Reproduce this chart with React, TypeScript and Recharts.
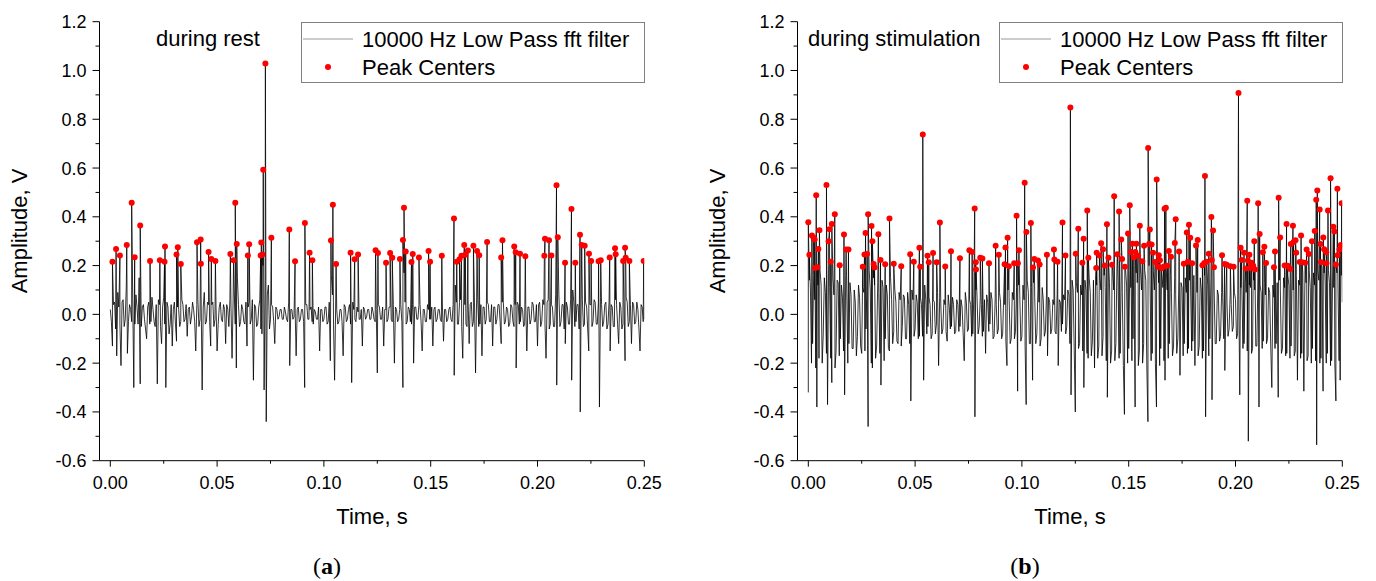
import { ComposedChart, Legend, Line, Scatter, XAxis, YAxis } from 'recharts';

const FONT = "'Liberation Sans', Arial, sans-serif";
const SAMPLE_STEP = 0.001; // s between baseline samples

const X_MAJOR = [0, 0.05, 0.1, 0.15, 0.2, 0.25];
const X_MINOR = [0.025, 0.075, 0.125, 0.175, 0.225];
const Y_MAJOR = [-0.6, -0.4, -0.2, 0, 0.2, 0.4, 0.6, 0.8, 1.0, 1.2];
const Y_MINOR = [-0.5, -0.3, -0.1, 0.1, 0.3, 0.5, 0.7, 0.9, 1.1];

// baseline trace during rest, one value per ms (0.000 … 0.250 s)
const restNoise = [
  0.02, -0.13, 0.05, -0.17, 0.03, -0.21, 0.06, -0.02, -0.16, 0.04,
  -0.03, -0.3, 0.08, -0.04, -0.285, 0.03, -0.02, -0.1, 0.05, -0.03,
  0.02, -0.05, -0.285, 0.04, -0.12, 0.07, -0.3, 0.03, -0.04, -0.13,
  0.05, -0.11, 0.02, -0.03, 0.04, -0.02, -0.09, 0.03, -0.01, 0.02,
  -0.15, 0.06, -0.02, -0.31, 0.09, -0.03, 0.04, -0.13, 0.05, -0.02,
  -0.15, 0.03, -0.02, 0.04, -0.12, 0.02, 0.06, -0.18, 0.1, -0.22,
  0.04, -0.03, 0.02, -0.04, -0.13, 0.05, -0.02, -0.27, 0.03, -0.04,
  0.06, -0.08, -0.31, -0.44, 0.12, -0.02, 0.03, -0.12, 0.02, -0.01,
  0.02, -0.02, 0.01, -0.03, -0.21, 0.02, -0.01, -0.17, 0.03, -0.02,
  0.02, -0.3, 0.04, -0.02, 0.03, -0.04, 0.01, -0.02, -0.15, 0.02,
  -0.02, 0.03, -0.03, -0.19, 0.08, -0.27, 0.02, -0.03, 0.02, -0.17,
  0.03, -0.02, 0.04, -0.28, 0.02, -0.03, 0.01, -0.02, -0.13, 0.02,
  -0.01, 0.02, -0.02, 0.01, -0.03, -0.24, 0.03, -0.02, -0.13, 0.02,
  -0.02, 0.03, -0.03, -0.2, 0.02, -0.02, 0.04, -0.3, 0.05, -0.03,
  0.02, -0.04, -0.2, 0.03, -0.02, 0.04, -0.15, 0.02, -0.03, 0.02,
  -0.02, -0.13, 0.03, -0.02, 0.02, -0.03, -0.11, 0.02, -0.02, 0.03,
  -0.03, -0.25, 0.05, -0.04, 0.06, -0.18, 0.04, -0.05, -0.12, 0.05,
  -0.03, -0.24, 0.06, -0.04, -0.17, 0.03, -0.02, 0.04, -0.03, -0.13,
  0.03, -0.02, 0.04, -0.12, 0.05, -0.03, 0.02, -0.04, 0.03, -0.05,
  -0.22, 0.04, -0.03, 0.02, -0.04, -0.15, 0.03, -0.02, 0.04, -0.03,
  -0.13, 0.05, -0.03, 0.04, -0.18, 0.06, -0.04, 0.03, -0.05, -0.29,
  0.08, -0.03, 0.04, -0.12, 0.03, -0.04, -0.27, 0.05, -0.03, 0.04,
  -0.4, 0.06, -0.04, 0.03, -0.15, 0.04, -0.03, 0.05, -0.04, -0.38,
  0.04, -0.03, 0.05, -0.04, -0.15, 0.03, -0.05, 0.04, -0.12, 0.03,
  -0.04, -0.19, 0.05, -0.03, -0.12, 0.04, -0.03, 0.02, -0.15, 0.03,
  -0.02,
];

// rest trace at the half-ms points (0.0005 … 0.2495 s)
const restNoiseMid = [
  -0.03, 0.04, -0.06, 0.09, -0.04, 0.05, -0.05, 0.12, -0.03, 0.02,
  0.06, -0.04, 0.03, 0.15, -0.05, 0.04, -0.06, 0.03, -0.04, 0.07,
  -0.03, 0.04, 0.06, -0.05, 0.03, -0.04, 0.05, -0.08, 0.04, 0.02,
  -0.04, 0.03, -0.05, 0.06, -0.03, 0.04, 0.02, -0.04, 0.05, -0.03,
  0.04, -0.05, 0.08, 0.03, -0.04, 0.05, -0.03, 0.04, -0.05, 0.03,
  -0.04, 0.05, -0.03, 0.02, 0.04, -0.05, 0.03, 0.06, -0.04, 0.15,
  -0.05, 0.04, -0.03, 0.05, 0.03, -0.04, 0.06, 0.04, -0.05, 0.03,
  -0.06, 0.2, 0.14, 0.08, -0.06, 0.04, -0.03, 0.03, -0.02, 0.02,
  -0.02, 0.03, -0.02, 0.05, 0.02, -0.02, 0.03, 0.02, -0.03, 0.02,
  -0.03, 0.04, -0.02, 0.02, -0.03, 0.02, -0.02, 0.03, 0.02, -0.03,
  0.03, -0.04, 0.05, 0.16, -0.04, 0.03, -0.04, 0.02, -0.03, 0.04,
  -0.03, 0.02, -0.04, 0.05, -0.02, 0.03, -0.02, 0.02, 0.03, -0.02,
  0.02, -0.02, 0.03, -0.02, 0.02, 0.04, -0.02, 0.03, 0.02, -0.03,
  0.03, -0.02, 0.04, 0.03, -0.03, 0.02, -0.03, 0.17, -0.04, 0.03,
  -0.03, 0.04, 0.03, -0.02, 0.04, -0.03, 0.02, -0.03, 0.04, -0.02,
  0.03, 0.02, -0.03, 0.02, -0.02, 0.03, 0.02, -0.03, 0.02, -0.02,
  0.04, 0.12, -0.04, 0.05, -0.05, 0.08, -0.04, 0.06, 0.04, -0.05,
  0.05, 0.07, -0.05, 0.04, 0.03, -0.04, 0.05, -0.03, 0.04, 0.03,
  -0.04, 0.04, -0.03, 0.05, -0.04, 0.03, -0.05, 0.04, -0.03, 0.04,
  0.05, -0.04, 0.03, -0.05, 0.04, 0.03, -0.04, 0.05, -0.03, 0.04,
  0.04, -0.05, 0.06, -0.04, 0.05, -0.06, 0.04, -0.05, 0.08, 0.2,
  -0.05, 0.04, -0.06, 0.05, -0.04, 0.06, 0.1, -0.05, 0.04, -0.06,
  0.12, -0.05, 0.05, -0.06, 0.04, -0.05, 0.06, -0.04, 0.05, 0.07,
  -0.05, 0.04, -0.06, 0.05, 0.04, -0.05, 0.06, -0.04, 0.05, -0.06,
  0.05, 0.07, -0.05, 0.04, 0.05, -0.04, 0.05, -0.06, 0.04, -0.03,
];

// peak centres during rest: [time s, amplitude V]
const restPeaks: [number, number][] = [
  [0.001, 0.216], [0.0027, 0.268], [0.0045, 0.241], [0.0077, 0.284], [0.01, 0.458],
  [0.0114, 0.234], [0.014, 0.364], [0.0186, 0.219], [0.0232, 0.222], [0.0254, 0.216],
  [0.0256, 0.278], [0.031, 0.245], [0.0316, 0.275], [0.033, 0.207], [0.0406, 0.296],
  [0.0423, 0.307], [0.0424, 0.208], [0.046, 0.256], [0.0473, 0.227], [0.0492, 0.219],
  [0.0562, 0.248], [0.0577, 0.222], [0.0585, 0.458], [0.0592, 0.289], [0.0644, 0.241],
  [0.065, 0.288], [0.0704, 0.241], [0.0707, 0.295], [0.0712, 0.245], [0.0716, 0.593],
  [0.0726, 1.029], [0.0754, 0.314], [0.0838, 0.348], [0.0865, 0.218], [0.0911, 0.375],
  [0.0933, 0.253], [0.0946, 0.222], [0.1033, 0.303], [0.1042, 0.449], [0.1057, 0.207],
  [0.1125, 0.253], [0.1144, 0.226], [0.116, 0.245], [0.1242, 0.263], [0.1253, 0.252],
  [0.1291, 0.212], [0.131, 0.252], [0.132, 0.232], [0.1356, 0.227], [0.137, 0.305],
  [0.1375, 0.437], [0.1383, 0.258], [0.141, 0.215], [0.1416, 0.248], [0.1445, 0.233],
  [0.149, 0.26], [0.1497, 0.216], [0.1552, 0.24], [0.1609, 0.393], [0.1622, 0.216],
  [0.1635, 0.226], [0.1644, 0.24], [0.1657, 0.284], [0.1662, 0.244], [0.1674, 0.262],
  [0.17, 0.281], [0.1717, 0.26], [0.1727, 0.242], [0.1764, 0.297], [0.183, 0.233],
  [0.1836, 0.304], [0.1891, 0.278], [0.1898, 0.255], [0.1918, 0.249], [0.1943, 0.238],
  [0.2032, 0.24], [0.2035, 0.31], [0.2054, 0.304], [0.2065, 0.241], [0.2089, 0.529],
  [0.2095, 0.316], [0.2129, 0.212], [0.2159, 0.432], [0.2177, 0.212], [0.2199, 0.326],
  [0.2207, 0.284], [0.2221, 0.281], [0.2241, 0.249], [0.2251, 0.219], [0.2286, 0.218],
  [0.2296, 0.222], [0.2338, 0.233], [0.2363, 0.271], [0.2366, 0.247], [0.2401, 0.219],
  [0.241, 0.273], [0.2413, 0.232], [0.243, 0.219], [0.2497, 0.219],
];

// baseline trace during stimulation, one value per ms
const stimNoise = [
  -0.32, 0.1, -0.12, 0.06, -0.38, -0.18, 0.12, -0.08, 0.09, -0.37,
  0.11, -0.28, 0.08, -0.15, 0.13, -0.1, 0.07, -0.33, 0.1, -0.12,
  0.08, -0.14, 0.05, -0.09, 0.07, -0.16, 0.09, -0.06, -0.46, 0.1,
  -0.22, 0.12, -0.13, 0.09, -0.29, 0.11, -0.1, 0.08, -0.15, 0.06,
  -0.07, 0.05, -0.12, 0.06, -0.05, 0.07, -0.1, 0.04, -0.355, 0.06,
  -0.06, 0.05, -0.09, 0.04, -0.27, 0.06, -0.05, 0.04, -0.08, 0.05,
  -0.04, -0.21, 0.05, -0.06, 0.04, -0.11, 0.03, -0.05, 0.04, -0.07,
  0.04, -0.05, 0.03, -0.19, 0.05, -0.06, 0.04, -0.08, -0.42, 0.07,
  -0.05, 0.04, -0.07, -0.16, 0.05, -0.04, 0.06, -0.09, 0.04, -0.06,
  0.05, -0.08, 0.04, -0.21, 0.07, -0.1, 0.06, -0.07, -0.315, 0.08,
  -0.09, 0.06, -0.37, 0.09, -0.12, -0.27, 0.07, -0.08, 0.05, -0.1,
  0.06, -0.07, -0.17, 0.05, -0.06, 0.04, -0.08, -0.21, 0.05, -0.04,
  0.06, -0.05, 0.08, -0.33, 0.1, -0.4, 0.09, -0.12, 0.08, -0.3,
  0.1, -0.18, 0.09, -0.11, -0.22, 0.12, -0.13, 0.1, -0.09, 0.11,
  -0.34, 0.13, -0.15, 0.1, -0.12, 0.14, -0.16, 0.09, -0.41, 0.12,
  -0.14, 0.11, -0.1, -0.38, 0.13, -0.15, 0.1, -0.12, 0.14, -0.44,
  0.12, -0.16, 0.1, -0.38, 0.13, -0.14, 0.11, -0.27, 0.1, -0.12,
  0.09, -0.13, 0.08, -0.1, -0.25, 0.11, -0.12, 0.09, -0.14, 0.1,
  -0.11, -0.21, 0.09, -0.13, 0.1, -0.15, -0.42, 0.12, -0.1, -0.35,
  0.1, -0.12, 0.08, -0.09, 0.07, -0.23, 0.05, -0.06, 0.04, -0.05,
  0.06, -0.08, -0.33, 0.1, -0.12, 0.09, -0.52, 0.11, -0.14, 0.1,
  -0.13, -0.38, 0.09, -0.11, 0.08, -0.1, 0.09, -0.3, 0.07, -0.12,
  -0.34, 0.1, -0.14, 0.11, -0.16, 0.12, -0.13, 0.1, -0.15, -0.27,
  0.12, -0.16, -0.315, 0.13, -0.17, 0.11, -0.14, 0.12, -0.535, 0.14,
  -0.18, -0.315, 0.12, -0.16, 0.13, -0.19, 0.11, -0.355, 0.1, -0.27,
  0.05,
];

// stimulation trace at the half-ms points
const stimNoiseMid = [
  0.14, -0.2, 0.16, -0.22, 0.12, 0.18, -0.2, 0.15, -0.16, 0.2,
  -0.18, 0.15, -0.22, 0.14, -0.17, 0.12, -0.15, 0.16, -0.2, 0.13,
  -0.14, 0.1, -0.17, 0.12, -0.13, 0.11, -0.15, 0.14, 0.18, -0.2,
  0.15, -0.18, 0.13, -0.16, 0.14, -0.19, 0.12, -0.14, 0.15, -0.12,
  0.1, -0.11, 0.09, -0.13, 0.08, -0.1, 0.09, -0.12, 0.1, -0.09,
  0.08, -0.1, 0.07, -0.09, 0.12, -0.08, 0.07, -0.1, 0.06, -0.08,
  0.09, 0.07, -0.08, 0.06, -0.07, 0.08, -0.06, 0.07, -0.08, 0.06,
  -0.07, 0.06, -0.08, 0.09, -0.07, 0.06, -0.09, 0.08, 0.1, -0.08,
  0.07, -0.09, 0.06, 0.08, -0.07, 0.09, -0.1, 0.07, -0.08, 0.09,
  -0.1, 0.08, -0.11, 0.1, -0.12, 0.09, -0.1, 0.11, 0.12, -0.11,
  0.12, -0.13, 0.14, -0.12, 0.11, 0.13, -0.12, 0.1, -0.13, 0.11,
  -0.09, 0.08, 0.07, -0.08, 0.06, -0.07, 0.08, 0.06, -0.07, 0.08,
  -0.08, 0.1, -0.12, 0.14, -0.15, 0.13, -0.14, 0.12, -0.15, 0.14,
  -0.16, 0.15, -0.17, 0.14, 0.16, -0.18, 0.15, -0.17, 0.16, -0.19,
  0.17, -0.2, 0.18, -0.19, 0.2, -0.18, 0.17, -0.21, 0.19, -0.2,
  0.18, -0.19, 0.2, 0.17, -0.21, 0.19, -0.2, 0.18, -0.22, 0.2,
  -0.19, 0.18, -0.2, 0.19, -0.21, 0.17, -0.19, 0.2, -0.18, 0.16,
  -0.17, 0.15, -0.16, 0.14, 0.13, -0.17, 0.15, -0.16, 0.14, -0.15,
  0.16, 0.14, -0.17, 0.15, -0.18, 0.16, 0.14, -0.17, 0.15, 0.13,
  -0.12, 0.1, -0.11, 0.09, -0.1, 0.08, -0.09, 0.08, -0.07, 0.09,
  -0.1, 0.12, 0.11, -0.14, 0.13, -0.15, 0.12, -0.16, 0.14, -0.13,
  0.15, 0.12, -0.14, 0.13, -0.12, 0.11, -0.13, 0.12, -0.14, 0.13,
  0.14, -0.16, 0.15, -0.17, 0.16, -0.18, 0.15, -0.17, 0.16, 0.14,
  -0.18, 0.17, 0.16, -0.19, 0.18, -0.2, 0.17, -0.19, 0.18, -0.2,
  0.19, 0.17, -0.2, 0.18, -0.21, 0.19, -0.2, 0.17, -0.19, 0.16,
];

// peak centres during stimulation: [time s, amplitude V]
const stimPeaks: [number, number][] = [
  [0, 0.378], [0.0005, 0.244], [0.0017, 0.323], [0.0025, 0.314], [0.003, 0.307],
  [0.0031, 0.19], [0.0037, 0.488], [0.0042, 0.193], [0.0047, 0.268], [0.0052, 0.345],
  [0.0085, 0.53], [0.0095, 0.3], [0.0099, 0.349], [0.0105, 0.216], [0.011, 0.371],
  [0.0124, 0.411], [0.0147, 0.201], [0.0167, 0.327], [0.0177, 0.266], [0.0188, 0.266],
  [0.0255, 0.195], [0.0263, 0.245], [0.0268, 0.334], [0.0275, 0.248], [0.028, 0.411],
  [0.0296, 0.362], [0.03, 0.3], [0.0306, 0.207], [0.031, 0.192], [0.0328, 0.329],
  [0.0338, 0.223], [0.036, 0.205], [0.038, 0.393], [0.04, 0.208], [0.0435, 0.197],
  [0.0477, 0.247], [0.0494, 0.216], [0.052, 0.273], [0.0524, 0.195], [0.0536, 0.738],
  [0.0558, 0.24], [0.0564, 0.214], [0.0584, 0.252], [0.0601, 0.214], [0.0616, 0.377],
  [0.0641, 0.196], [0.0668, 0.259], [0.071, 0.23], [0.0754, 0.263], [0.0767, 0.256],
  [0.0779, 0.434], [0.0784, 0.214], [0.0785, 0.184], [0.0805, 0.232], [0.0815, 0.229],
  [0.0846, 0.21], [0.0877, 0.281], [0.0892, 0.244], [0.0919, 0.205], [0.0923, 0.274],
  [0.0933, 0.314], [0.0939, 0.197], [0.0964, 0.21], [0.0975, 0.404], [0.0981, 0.21],
  [0.0986, 0.263], [0.1013, 0.54], [0.1021, 0.338], [0.1042, 0.375], [0.1052, 0.192],
  [0.1058, 0.227], [0.1075, 0.221], [0.1083, 0.204], [0.1117, 0.244], [0.115, 0.266],
  [0.1152, 0.225], [0.1167, 0.216], [0.119, 0.377], [0.1204, 0.241], [0.1227, 0.848],
  [0.1252, 0.249], [0.1264, 0.351], [0.1283, 0.212], [0.1289, 0.31], [0.1306, 0.426],
  [0.1311, 0.232], [0.1348, 0.19], [0.135, 0.253], [0.1363, 0.241], [0.1371, 0.292],
  [0.138, 0.267], [0.1388, 0.2], [0.1398, 0.37], [0.1405, 0.232], [0.1422, 0.203],
  [0.1432, 0.484], [0.1447, 0.247], [0.1455, 0.422], [0.1465, 0.307], [0.1469, 0.227],
  [0.1482, 0.195], [0.1497, 0.332], [0.1505, 0.447], [0.151, 0.256], [0.1517, 0.29],
  [0.1524, 0.233], [0.1531, 0.256], [0.1536, 0.29], [0.1544, 0.24], [0.1552, 0.363],
  [0.1564, 0.218], [0.1572, 0.281], [0.1591, 0.682], [0.1596, 0.289], [0.1599, 0.348],
  [0.1607, 0.286], [0.1614, 0.253], [0.1624, 0.215], [0.1631, 0.553], [0.1638, 0.195],
  [0.1641, 0.242], [0.1646, 0.222], [0.1654, 0.189], [0.1664, 0.196], [0.1668, 0.433],
  [0.1674, 0.437], [0.1681, 0.199], [0.1688, 0.26], [0.1698, 0.236], [0.1716, 0.293],
  [0.172, 0.39], [0.1736, 0.258], [0.1758, 0.208], [0.1772, 0.336], [0.1777, 0.216],
  [0.1782, 0.367], [0.1788, 0.314], [0.1797, 0.21], [0.1815, 0.282], [0.1823, 0.305],
  [0.1845, 0.201], [0.1854, 0.211], [0.1857, 0.567], [0.1865, 0.216], [0.1875, 0.249],
  [0.1887, 0.399], [0.1889, 0.223], [0.1895, 0.344], [0.1899, 0.193], [0.1937, 0.242],
  [0.1949, 0.207], [0.1959, 0.203], [0.1976, 0.197], [0.1991, 0.195], [0.2014, 0.908],
  [0.2024, 0.273], [0.2029, 0.223], [0.204, 0.253], [0.2048, 0.188], [0.2055, 0.466],
  [0.2058, 0.221], [0.2065, 0.244], [0.2068, 0.19], [0.2075, 0.212], [0.2083, 0.199],
  [0.2088, 0.3], [0.2091, 0.184], [0.2106, 0.456], [0.2113, 0.33], [0.2128, 0.255],
  [0.2135, 0.277], [0.2143, 0.211], [0.218, 0.193], [0.2185, 0.258], [0.2202, 0.478],
  [0.2209, 0.315], [0.223, 0.2], [0.2239, 0.371], [0.2244, 0.199], [0.2256, 0.186],
  [0.2259, 0.289], [0.2269, 0.363], [0.2272, 0.297], [0.2281, 0.304], [0.2284, 0.253],
  [0.2301, 0.215], [0.2307, 0.323], [0.2312, 0.214], [0.2326, 0.212], [0.2333, 0.266],
  [0.2343, 0.248], [0.2358, 0.3], [0.2371, 0.342], [0.2378, 0.47], [0.2383, 0.508],
  [0.2394, 0.43], [0.2398, 0.289], [0.2401, 0.214], [0.2411, 0.315], [0.2415, 0.267],
  [0.2425, 0.255], [0.2426, 0.21], [0.2433, 0.426], [0.2445, 0.558], [0.2458, 0.359],
  [0.2463, 0.34], [0.247, 0.204], [0.2477, 0.515], [0.2478, 0.242], [0.2487, 0.266],
  [0.2493, 0.284], [0.2497, 0.456],
];

const SERIES_NAME = '10000 Hz Low Pass fft filter';
const PEAK_NAME = 'Peak Centers';

const isIn = (list: number[], v: number) => list.some((m) => Math.abs(m - v) < 1e-9);

// peaks sit on the trace, so the trace passes through them
const buildSignal = (noise: number[], mid: number[], peaks: [number, number][]) =>
  [
    ...noise.map((v, i) => ({ t: i * SAMPLE_STEP, v })),
    ...mid.map((v, i) => ({ t: (i + 0.5) * SAMPLE_STEP, v })),
    ...peaks.map(([t, v]) => ({ t, v })),
  ].sort((a, b) => a.t - b.t);

const XTick = (props: any) => {
  const { x, y, payload } = props;
  const major = isIn(X_MAJOR, payload.value);
  return (
    <g>
      <line x1={x} y1={y} x2={x} y2={y + (major ? 6 : 3)} stroke="#000" strokeWidth={1} />
      {major && (
        <text x={x} y={y + 28} textAnchor="middle" fontSize={18} fontFamily={FONT} fill="#000">
          {payload.value.toFixed(2)}
        </text>
      )}
    </g>
  );
};

const YTick = (props: any) => {
  const { x, y, payload } = props;
  const major = isIn(Y_MAJOR, payload.value);
  return (
    <g>
      <line x1={x} y1={y} x2={x - (major ? 7 : 4)} y2={y} stroke="#000" strokeWidth={1} />
      {major && (
        <text x={x - 13} y={y + 6.5} textAnchor="end" fontSize={18} fontFamily={FONT} fill="#000">
          {payload.value.toFixed(1)}
        </text>
      )}
    </g>
  );
};

const PeakDot = (props: any) => <circle cx={props.cx} cy={props.cy} r={3} fill="#ff0000" />;

const LegendBox = (props: any) => {
  const payload = props.payload ?? [];
  return (
    <svg width={344} height={61} style={{ display: 'block' }}>
      <rect x={0.5} y={0.5} width={343} height={60} fill="#fff" stroke="#808080" />
      {payload.map((entry: any, i: number) => {
        const cy = 17 + i * 28;
        return (
          <g key={entry.value}>
            {entry.type === 'line' ? (
              <line x1={2} y1={cy} x2={52} y2={cy} stroke="#9a9a9a" strokeWidth={1.2} />
            ) : (
              <circle cx={27} cy={cy} r={3} fill="#ff0000" />
            )}
            <text x={61} y={cy + 8} fontSize={22} fontFamily={FONT} fill="#000">
              {entry.value}
            </text>
          </g>
        );
      })}
    </svg>
  );
};

interface PanelProps {
  left: number;
  noise: number[];
  mid: number[];
  peaks: [number, number][];
  title: string;
  titleX: number;
  tag: string;
}

const Panel = ({ left, noise, mid, peaks, title, titleX, tag }: PanelProps) => {
  const signal = buildSignal(noise, mid, peaks);
  const peakData = peaks.map(([t, v]) => ({ t, v }));
  const xTicks = [...X_MAJOR, ...X_MINOR].sort((a, b) => a - b);
  const yTicks = [...Y_MAJOR, ...Y_MINOR].sort((a, b) => a - b);
  return (
    <div style={{ position: 'absolute', left, top: 0, width: 680, height: 581 }}>
      <ComposedChart width={680} height={581} margin={{ top: 21.7, right: 35.7, bottom: 90.3, left: 39.5 }}>
        <XAxis
          type="number"
          dataKey="t"
          domain={[-0.00506, 0.25]}
          ticks={xTicks}
          interval={0}
          tick={XTick}
          tickLine={false}
          tickSize={0}
          tickMargin={0}
          axisLine={{ stroke: '#000', strokeWidth: 1 }}
          height={30}
          allowDataOverflow
        />
        <YAxis
          type="number"
          dataKey="v"
          domain={[-0.6, 1.2]}
          ticks={yTicks}
          interval={0}
          tick={YTick}
          tickLine={false}
          tickSize={0}
          tickMargin={0}
          axisLine={{ stroke: '#000', strokeWidth: 1 }}
          width={60}
          allowDataOverflow
        />
        <Legend
          content={LegendBox}
          layout="horizontal"
          verticalAlign="middle"
          align="center"
          wrapperStyle={{ left: 301, top: 22, width: 344, height: 61 }}
        />
        <Line
          data={signal}
          dataKey="v"
          name={SERIES_NAME}
          type="linear"
          stroke="#000"
          strokeWidth={0.8}
          dot={false}
          activeDot={false}
          legendType="line"
          isAnimationActive={false}
        />
        <Scatter
          data={peakData}
          dataKey="v"
          name={PEAK_NAME}
          fill="#ff0000"
          shape={PeakDot}
          legendType="circle"
          isAnimationActive={false}
        />
      </ComposedChart>
      <svg
        width={680}
        height={581}
        style={{ position: 'absolute', left: 0, top: 0, pointerEvents: 'none' }}
      >
        <text x={titleX} y={46} fontSize={22} fontFamily={FONT} fill="#000">
          {title}
        </text>
        <text
          transform="translate(27, 231) rotate(-90)"
          textAnchor="middle"
          fontSize={22}
          fontFamily={FONT}
          fill="#000"
        >
          Amplitude, V
        </text>
        <text x={372} y={524} textAnchor="middle" fontSize={22} fontFamily={FONT} fill="#000">
          Time, s
        </text>
        <text
          x={327}
          y={574}
          textAnchor="middle"
          fontSize={24}
          fontFamily="'Liberation Serif', 'DejaVu Serif', serif"
          fill="#000"
        >
          (<tspan fontWeight="bold">{tag}</tspan>)
        </text>
      </svg>
    </div>
  );
};

export default function App() {
  return (
    <div
      style={{
        position: 'absolute',
        left: 0,
        top: 0,
        width: 1376,
        height: 581,
        background: '#fff',
        overflow: 'hidden',
      }}
    >
      <Panel left={0} noise={restNoise} mid={restNoiseMid} peaks={restPeaks} title="during rest" titleX={156} tag="a" />
      <Panel
        left={698}
        noise={stimNoise}
        mid={stimNoiseMid}
        peaks={stimPeaks}
        title="during stimulation"
        titleX={110}
        tag="b"
      />
    </div>
  );
}
